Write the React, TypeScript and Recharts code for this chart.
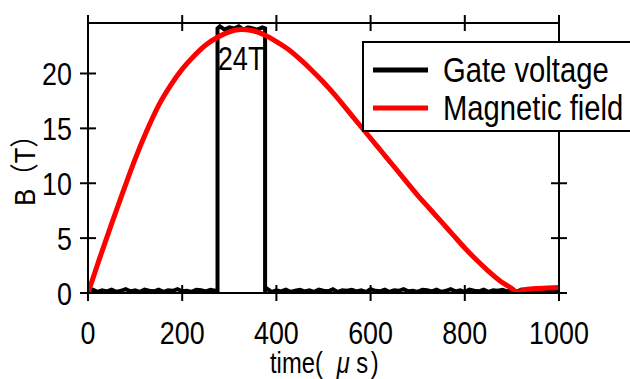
import React from 'react';
import { LineChart, Line, XAxis, YAxis, Legend, ReferenceDot } from 'recharts';

const FONT = '"Liberation Sans", Arial, "Noto Sans CJK JP", sans-serif';
// the original uses a narrow Japanese face; squeeze Liberation Sans horizontally instead
const SQUEEZE = 0.84;

/* axis ticks */
const TIME_TICKS = [0, 200, 400, 600, 800, 1000];
const FIELD_TICKS = [0, 5, 10, 15, 20];

/* gate voltage trace: [time µs, level] */
const GATE: [number, number][] = [
  [0, 0.2], [10, 0.3], [20, 0.1], [30, 0.25], [40, 0.15], [50, 0.3], [60, 0.1], [70, 0.2],
  [80, 0.35], [90, 0.15], [100, 0.25], [110, 0.1], [120, 0.3], [130, 0.2], [140, 0.15], [150, 0.3],
  [160, 0.1], [170, 0.25], [180, 0.2], [190, 0.35], [200, 0.15], [210, 0.2], [220, 0.1], [230, 0.3],
  [240, 0.25], [250, 0.15], [260, 0.3], [270, 0.2], [275, 0.2],
  [275, 24.1], [280, 24.3], [290, 24.0], [300, 24.2], [310, 24.1], [320, 24.3], [330, 24.0],
  [340, 24.2], [350, 24.1], [360, 24.0], [370, 24.2], [376, 24.1],
  [376, 0.2], [380, 0.4], [390, 0.1], [400, 0.25], [410, 0.15], [420, 0.3], [430, 0.1], [440, 0.2],
  [450, 0.3], [460, 0.15], [470, 0.25], [480, 0.1], [490, 0.3], [500, 0.2], [510, 0.15], [520, 0.35],
  [530, 0.1], [540, 0.25], [550, 0.2], [560, 0.3], [570, 0.15], [580, 0.25], [590, 0.1], [600, 0.35],
  [610, 0.2], [620, 0.15], [630, 0.3], [640, 0.1], [650, 0.25], [660, 0.2], [670, 0.35], [680, 0.15],
  [690, 0.2], [700, 0.1], [710, 0.3], [720, 0.25], [730, 0.15], [740, 0.3], [750, 0.1], [760, 0.2],
  [770, 0.35], [780, 0.15], [790, 0.25], [800, 0.1], [810, 0.3], [820, 0.2], [830, 0.15], [840, 0.3],
  [850, 0.1], [860, 0.25], [870, 0.2], [880, 0.3], [890, 0.15], [900, 0.25], [910, 0.1], [920, 0.3],
  [930, 0.2], [940, 0.15], [950, 0.3], [960, 0.1], [970, 0.25], [980, 0.2], [990, 0.3], [1000, 0.15],
];

/* magnetic field pulse: [time µs, B (T)] */
const FIELD: [number, number][] = [
  [0, 0], [25, 3.2], [50, 6.3], [75, 9.3], [100, 12.2], [125, 14.8], [150, 17.1], [175, 18.9],
  [200, 20.4], [225, 21.6], [250, 22.6], [275, 23.3], [300, 23.8], [325, 24.0], [350, 23.9],
  [375, 23.5], [400, 22.9], [425, 22.2], [450, 21.3], [475, 20.3], [500, 19.2], [525, 18.0],
  [550, 16.7], [575, 15.4], [600, 14.1], [625, 12.8], [650, 11.5], [675, 10.2], [700, 8.9],
  [725, 7.7], [750, 6.5], [775, 5.3], [800, 4.1], [825, 3.0], [850, 2.0], [875, 1.1], [900, 0.4],
  [912, 0.05], [925, 0.3], [950, 0.4], [975, 0.45], [1000, 0.5],
];

const gateData = GATE.map(([t, v]) => ({ t, v }));
const fieldData = FIELD.map(([t, b]) => ({ t, b }));

/* ticks crossing the frame */
const BottomTick = (props: any) => {
  const { x, y, payload } = props;
  return (
    <g>
      <line x1={x} x2={x} y1={y - 8} y2={y + 8} stroke="#000" strokeWidth={2} />
      <text transform={`translate(${x},${y + 51}) scale(${SQUEEZE},1)`} textAnchor="middle"
        fontSize={32} fontFamily={FONT} fill="#000">
        {payload.value}
      </text>
    </g>
  );
};

const TopTick = (props: any) => (
  <line x1={props.x} x2={props.x} y1={props.y - 8} y2={props.y + 8} stroke="#000" strokeWidth={2} />
);

const LeftTick = (props: any) => {
  const { x, y, payload } = props;
  return (
    <g>
      <line x1={x - 8} x2={x + 8} y1={y} y2={y} stroke="#000" strokeWidth={2} />
      <text transform={`translate(${x - 16},${y + 12}) scale(${SQUEEZE},1)`} textAnchor="end"
        fontSize={32} fontFamily={FONT} fill="#000">
        {payload.value}
      </text>
    </g>
  );
};

const RightTick = (props: any) => (
  <line x1={props.x - 8} x2={props.x + 8} y1={props.y} y2={props.y} stroke="#000" strokeWidth={2} />
);

const YTitle = () => (
  <text transform="translate(35,164) rotate(-90) scale(0.88,1)" textAnchor="middle"
    fontSize={29} fontFamily={FONT} fill="#000">
    B（T）
  </text>
);

const XTitle = () => (
  <text transform="translate(270,373) scale(0.82,1)" fontSize={29} fontFamily={FONT} fill="#000">
    time(<tspan dx={17} fontStyle="italic">μ</tspan><tspan dx={8}>s</tspan><tspan dx={3}>)</tspan>
  </text>
);

const LegendBox = (props: any) => (
  <svg width={300} height={92} style={{ display: 'block' }}>
    <rect x={1} y={1} width={300} height={89} fill="#fff" stroke="#000" strokeWidth={2} />
    {(props.payload || []).map((p: any, i: number) => (
      <g key={p.value}>
        <line x1={11} x2={66} y1={29 + i * 38} y2={29 + i * 38} stroke={p.color} strokeWidth={5} />
        <text transform={`translate(81,${41 + i * 38}) scale(0.835,1)`} fontSize={35} fontFamily={FONT} fill="#000">
          {p.value}
        </text>
      </g>
    ))}
  </svg>
);

const App: React.FC = () => {
  return (
    <div style={{ position: 'absolute', left: 0, top: 0, width: 630, height: 379, overflow: 'hidden', background: '#fff' }}>
      <LineChart width={630} height={379} margin={{ top: 13, right: 61, bottom: 26, left: 28 }}>
        <XAxis xAxisId="0" dataKey="t" type="number" domain={[0, 1000]} ticks={TIME_TICKS} allowDataOverflow
          orientation="bottom" height={60} tickSize={0} tickMargin={0} tickLine={false}
          axisLine={{ stroke: '#000', strokeWidth: 2 }} tick={<BottomTick />} label={<XTitle />} />
        <XAxis xAxisId="top" dataKey="t" type="number" domain={[0, 1000]} ticks={TIME_TICKS} allowDataOverflow
          orientation="top" height={10} tickSize={0} tickMargin={0} tickLine={false}
          axisLine={{ stroke: '#000', strokeWidth: 2 }} tick={<TopTick />} />
        <YAxis yAxisId="0" type="number" domain={[0, 24.6]} ticks={FIELD_TICKS} allowDataOverflow
          orientation="left" width={60} tickSize={0} tickMargin={0} tickLine={false}
          axisLine={{ stroke: '#000', strokeWidth: 2 }} tick={<LeftTick />} label={<YTitle />} />
        <YAxis yAxisId="right" type="number" domain={[0, 24.6]} ticks={FIELD_TICKS} allowDataOverflow
          orientation="right" width={10} tickSize={0} tickMargin={0} tickLine={false}
          axisLine={{ stroke: '#000', strokeWidth: 2 }} tick={<RightTick />} />
        <Legend layout="vertical" verticalAlign="middle" align="center" content={<LegendBox />}
          wrapperStyle={{ left: 362, top: 41, width: 300, height: 92 }} />
        <Line xAxisId="0" yAxisId="0" data={gateData} dataKey="v" name="Gate voltage" type="linear"
          stroke="#000" strokeWidth={4} dot={false} activeDot={false} isAnimationActive={false} />
        <Line xAxisId="top" yAxisId="right" data={fieldData} dataKey="b" name="Magnetic field" type="monotone"
          stroke="#ff0000" strokeWidth={5} dot={false} activeDot={false} isAnimationActive={false} />
        <ReferenceDot xAxisId="0" yAxisId="0" x={325} y={21.4} r={0} fill="none" stroke="none"
          label={(p: any) => (
            <text transform={`translate(${p.viewBox.x},${p.viewBox.y + 12}) scale(0.8,1)`} textAnchor="middle"
              fontSize={34} fontFamily={FONT} fill="#000">
              24T
            </text>
          )} />
      </LineChart>
    </div>
  );
};

export default App;
